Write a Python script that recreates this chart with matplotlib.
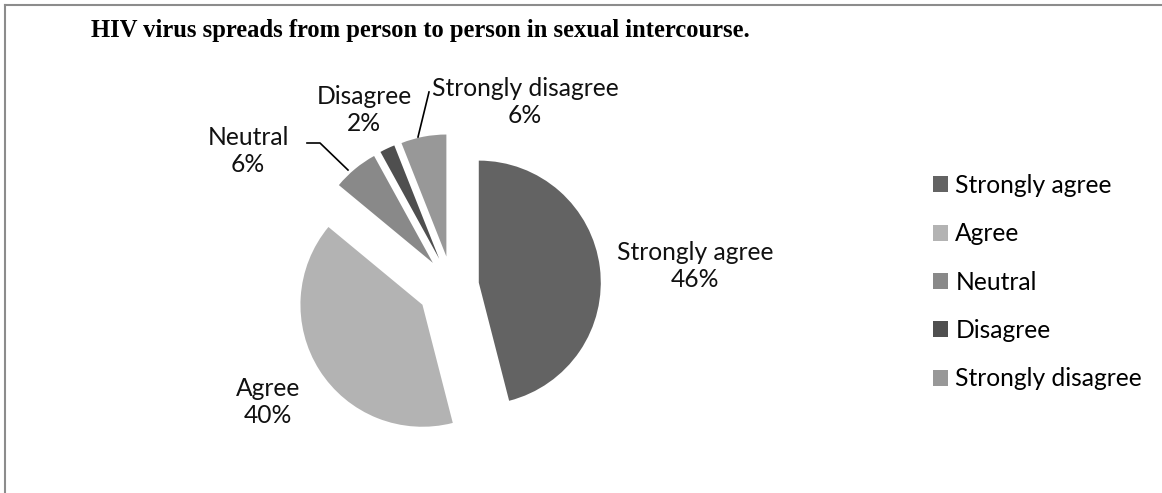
import matplotlib.pyplot as plt
from matplotlib.lines import Line2D

# survey answers
categories = ['Strongly agree', 'Agree', 'Neutral', 'Disagree', 'Strongly disagree']
shares = [46, 40, 6, 2, 6]
colors = ['#636363', '#b3b3b3', '#898989', '#4f4f4f', '#989898']

title = 'HIV virus spreads from person to person in sexual intercourse.'

W, H = 1162, 493
label_font = 'Lato'
fs = 17.7

# pie layout in pixel units (axes spans the whole figure)
center = (452, H - 286)
radius = 122
explode = [27, 35, 30, 30, 30]

fig = plt.figure(figsize=(W / 100, H / 100), dpi=100)
ax = fig.add_axes([0, 0, 1, 1])

wedges, _ = ax.pie(shares, explode=explode, colors=colors, startangle=90,
                   counterclock=False, center=center, radius=radius,
                   wedgeprops=dict(linewidth=0))
ax.set_xlim(0, W)
ax.set_ylim(0, H)
ax.set_aspect('equal')
ax.axis('off')

# data labels (name + percent)
total = sum(shares)
label_pos = [(695, 266), (268, 402), (248, 151), (364, 110), (525, 102)]
for name, v, (x, y) in zip(categories, shares, label_pos):
    ax.text(x, H - y, f'{name}\n{v / total * 100:.0f}%', ha='center', va='center',
            fontsize=fs, family=label_font, color='#111111', linespacing=1.2)

# leader lines for the small slices
ax.plot([307, 320, 348], [H - 143, H - 143, H - 170], color='black', lw=1.2)
ax.plot([429, 418], [H - 92, H - 137], color='black', lw=1.2)

fig.text(91 / W, 1 - 31 / H, title, ha='left', va='center', fontsize=17.7,
         fontweight='bold', family='Liberation Serif')

leg = fig.legend(wedges, categories, loc='upper left',
                 bbox_to_anchor=(933 / W, 1 - 174 / H), frameon=False,
                 prop={'family': label_font, 'size': fs},
                 borderpad=0, borderaxespad=0,
                 handlelength=0.61, handleheight=0.61, handletextpad=0.3,
                 labelspacing=1.03)

# chart frame (top and left edges)
fig.add_artist(Line2D([5 / W, 1], [1 - 5 / H, 1 - 5 / H], color='#8c8c8c', lw=1.5))
fig.add_artist(Line2D([5 / W, 5 / W], [0, 1 - 5 / H], color='#8c8c8c', lw=1.5))

fig.savefig('out.png', dpi=100)
